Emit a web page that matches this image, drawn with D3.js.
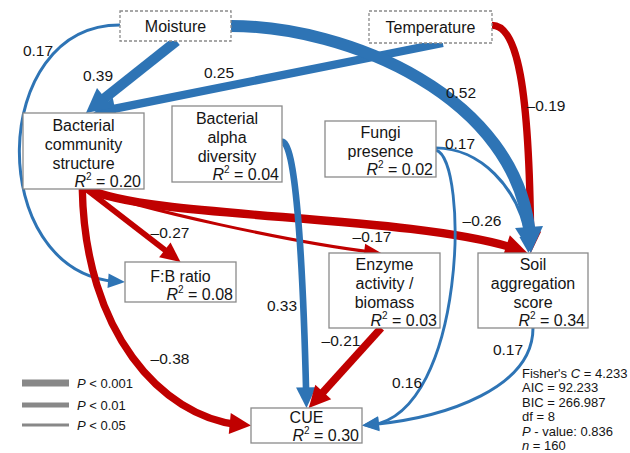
<!DOCTYPE html>
<html>
<head>
<meta charset="utf-8">
<script src="https://cdn.jsdelivr.net/npm/d3@7"></script>
<style>
  body { margin: 0; background: #fff; }
  svg { display: block; font-family: "Liberation Sans", Arial, Helvetica, sans-serif; }
</style>
</head>
<body>
<svg id="chart" width="630" height="453"></svg>
<script>
// ---- data ----
const nodes = [
  { id: "moist", lines: ["Moisture"], r2: null },
  { id: "temp", lines: ["Temperature"], r2: null },
  { id: "bcs", lines: ["Bacterial", "community", "structure"], r2: "0.20" },
  { id: "alpha", lines: ["Bacterial", "alpha", "diversity"], r2: "0.04" },
  { id: "fungi", lines: ["Fungi", "presence"], r2: "0.02" },
  { id: "fb", lines: ["F:B ratio"], r2: "0.08" },
  { id: "enz", lines: ["Enzyme", "activity /", "biomass"], r2: "0.03" },
  { id: "soil", lines: ["Soil", "aggregation", "score"], r2: "0.34" },
  { id: "cue", lines: ["CUE"], r2: "0.30" }
];

// standardised path coefficients, in drawing order
const paths = [
  { from: "moist", to: "fb", coef: 0.17, p: "0.05" },
  { from: "bcs", to: "cue", coef: -0.38, p: "0.01" },
  { from: "bcs", to: "soil", coef: -0.26, p: "0.001" },
  { from: "bcs", to: "enz", coef: -0.17, p: "0.05" },
  { from: "bcs", to: "fb", coef: -0.27, p: "0.01" },
  { from: "temp", to: "soil", coef: -0.19, p: "0.001" },
  { from: "alpha", to: "cue", coef: 0.33, p: "0.01" },
  { from: "enz", to: "cue", coef: -0.21, p: "0.001" },
  { from: "fungi", to: "cue", coef: 0.16, p: "0.05" },
  { from: "soil", to: "cue", coef: 0.17, p: "0.05" },
  { from: "fungi", to: "soil", coef: 0.17, p: "0.05" },
  { from: "temp", to: "bcs", coef: 0.25, p: "0.001" },
  { from: "moist", to: "bcs", coef: 0.39, p: "0.001" },
  { from: "moist", to: "soil", coef: 0.52, p: "0.001" }
];

const pLevels = ["0.001", "0.01", "0.05"];

const fitStats = [
  [["Fisher's "], ["C", true], [" = 4.233"]],
  [["AIC = 92.233"]],
  [["BIC = 266.987"]],
  [["df = 8"]],
  [["P", true], [" - value: 0.836"]],
  [["n", true], [" = 160"]]
];

// ---- layout ----
const boxes = {
  moist: { x: 120, y: 11, w: 111, h: 30, dashed: true },
  temp:  { x: 369, y: 11, w: 123, h: 32, dashed: true },
  bcs:   { x: 23,  y: 113, w: 121, h: 76 },
  alpha: { x: 172, y: 106, w: 110, h: 76 },
  fungi: { x: 325, y: 121, w: 111, h: 56 },
  fb:    { x: 125, y: 262, w: 111, h: 40 },
  enz:   { x: 329, y: 253, w: 111, h: 75 },
  soil:  { x: 478, y: 253, w: 110, h: 75 },
  cue:   { x: 251, y: 408, w: 111, h: 35 }
};
const at = (id, fx, fy) => [boxes[id].x + fx * boxes[id].w, boxes[id].y + fy * boxes[id].h];

const routes = {
  "moist>fb":   { s: at("moist", 0, 0.47), c: [[-15, 25], [-15, 282]], e: at("fb", 0, 0.5), lab: [38, 50] },
  "bcs>cue":    { s: at("bcs", 0.49, 1), c: [[85, 340], [170, 425]], e: at("cue", 0, 0.5), lab: [170, 358] },
  "bcs>soil":   { s: at("bcs", 0.54, 1), c: [[150, 220], [430, 214]], e: at("soil", 0.45, 0), lab: [482, 220] },
  "bcs>enz":    { s: at("bcs", 0.54, 1), c: [[140, 210], [310, 246]], e: at("enz", 0.47, 0), lab: [372, 236] },
  "bcs>fb":     { s: at("bcs", 0.52, 1), e: at("fb", 0.5, 0), lab: [170, 232] },
  "temp>soil":  { s: at("temp", 1, 0.45), c: [[518, 25], [530, 90]], e: at("soil", 0.48, 0), lab: [546, 105] },
  "enz>cue":    { s: at("enz", 0.47, 1), e: at("cue", 0.52, 0), lab: [341, 340] },
  "alpha>cue":  { s: at("alpha", 1, 0.47), c: [[295, 140], [303, 250]], e: at("cue", 0.5, 0), lab: [282, 305] },
  "fungi>cue":  { s: at("fungi", 1, 0.52), c: [[470, 160], [466, 428]], e: at("cue", 1, 0.5), lab: [407, 382] },
  "soil>cue":   { s: at("soil", 0.5, 1), c: [[533, 390], [440, 420]], e: at("cue", 1, 0.5), lab: [508, 349] },
  "fungi>soil": { s: at("fungi", 1, 0.48), c: [[480, 148], [525, 190]], e: at("soil", 0.46, 0), lab: [460, 143] },
  "temp>bcs":   { s: at("temp", 0.6, 1), e: at("bcs", 0.58, 0), lab: [219, 72] },
  "moist>bcs":  { s: at("moist", 0.51, 1), e: at("bcs", 0.52, 0), lab: [98, 75] },
  "moist>soil": { s: at("moist", 1, 0.5), c: [[350, 26], [531, 100]], e: at("soil", 0.48, 0), lab: [461, 92] }
};

const blue = "#2e74b5", red = "#c00000", ink = "#151515", boxStroke = "#8a8a8a";
const baseWidth = d3.scaleOrdinal(pLevels, [4.7, 2, 0.6]);
const coefWidth = d3.scaleLinear().domain([0, 0.52]).range([0, 7.3]);
const legendWidth = d3.scaleOrdinal(pLevels, [7, 5, 3]);
const fmt = c => (c < 0 ? "\u2013" : "") + Math.abs(c).toFixed(2);

const svg = d3.select("#chart");
const edgeG = svg.append("g");

paths.forEach(e => {
  const r = routes[e.from + ">" + e.to];
  const w = baseWidth(e.p) + coefWidth(Math.abs(e.coef));
  const col = e.coef < 0 ? red : blue;
  const d = r.c ? `M${r.s}C${r.c[0]} ${r.c[1]} ${r.e}` : `M${r.s}L${r.e}`;
  const path = edgeG.append("path")
    .attr("d", d)
    .attr("fill", "none")
    .attr("stroke", col)
    .attr("stroke-width", w);
  const len = path.node().getTotalLength();
  const hl = 14 + w, hw = 5 + 0.75 * w;
  path.attr("stroke-dasharray", `${len - hl * 0.6} ${len + 10}`);
  const tip = path.node().getPointAtLength(len);
  const back = path.node().getPointAtLength(Math.max(0, len - hl));
  const a = Math.atan2(tip.y - back.y, tip.x - back.x);
  const bx = tip.x - hl * Math.cos(a), by = tip.y - hl * Math.sin(a);
  const px = -Math.sin(a) * hw, py = Math.cos(a) * hw;
  edgeG.append("polygon")
    .attr("points", [[tip.x, tip.y], [bx + px, by + py], [bx - px, by - py]].join(" "))
    .attr("fill", col);
});

// coefficient labels
svg.append("g").selectAll("text")
  .data(paths)
  .join("text")
  .attr("x", e => routes[e.from + ">" + e.to].lab[0])
  .attr("y", e => routes[e.from + ">" + e.to].lab[1])
  .attr("text-anchor", "middle")
  .attr("dominant-baseline", "central")
  .attr("font-size", 15.5)
  .attr("fill", ink)
  .text(e => fmt(e.coef));

// boxes
const nodeG = svg.append("g").selectAll("g")
  .data(nodes)
  .join("g");

nodeG.append("rect")
  .attr("x", d => boxes[d.id].x)
  .attr("y", d => boxes[d.id].y)
  .attr("width", d => boxes[d.id].w)
  .attr("height", d => boxes[d.id].h)
  .attr("fill", "#fff")
  .attr("stroke", boxStroke)
  .attr("stroke-width", 1.3)
  .attr("stroke-dasharray", d => boxes[d.id].dashed ? "3,2" : null);

nodeG.each(function (d) {
  const b = boxes[d.id];
  const g = d3.select(this);
  const cx = b.x + b.w / 2;
  if (d.r2 === null) {
    g.append("text")
      .attr("x", cx).attr("y", b.y + b.h / 2)
      .attr("text-anchor", "middle")
      .attr("dominant-baseline", "central")
      .attr("font-size", 16).attr("fill", ink)
      .text(d.lines[0]);
    return;
  }
  const rBase = b.y + b.h - 1.8;
  d.lines.forEach((ln, i) => {
    g.append("text")
      .attr("x", cx)
      .attr("y", rBase - 18.6 * (d.lines.length - i))
      .attr("text-anchor", "middle")
      .attr("font-size", 16).attr("fill", ink)
      .text(ln);
  });
  const t = g.append("text")
    .attr("x", b.x + b.w - 3)
    .attr("y", rBase)
    .attr("text-anchor", "end")
    .attr("font-size", 16).attr("fill", ink);
  t.append("tspan").attr("font-style", "italic").text("R");
  t.append("tspan").attr("font-size", 10).attr("dy", -7).text("2");
  t.append("tspan").attr("dy", 7).text(" = " + d.r2);
});

// legend
const leg = svg.append("g");
const legY = d3.scaleOrdinal(pLevels, [383, 405, 425]);
pLevels.forEach(p => {
  const y = legY(p);
  leg.append("line")
    .attr("x1", 22).attr("x2", 69)
    .attr("y1", y).attr("y2", y)
    .attr("stroke", "#888").attr("stroke-width", legendWidth(p));
  const t = leg.append("text")
    .attr("x", 77).attr("y", y)
    .attr("dominant-baseline", "central")
    .attr("font-size", 13).attr("fill", ink);
  t.append("tspan").attr("font-style", "italic").text("P");
  t.append("tspan").text(" < " + p);
});

// model fit statistics
const stats = svg.append("g");
fitStats.forEach((segs, i) => {
  const t = stats.append("text")
    .attr("x", 522).attr("y", 378 + i * 14.4)
    .attr("font-size", 13).attr("fill", ink);
  segs.forEach(s => {
    t.append("tspan").attr("font-style", s[1] ? "italic" : null).text(s[0]);
  });
});
</script>
</body>
</html>
